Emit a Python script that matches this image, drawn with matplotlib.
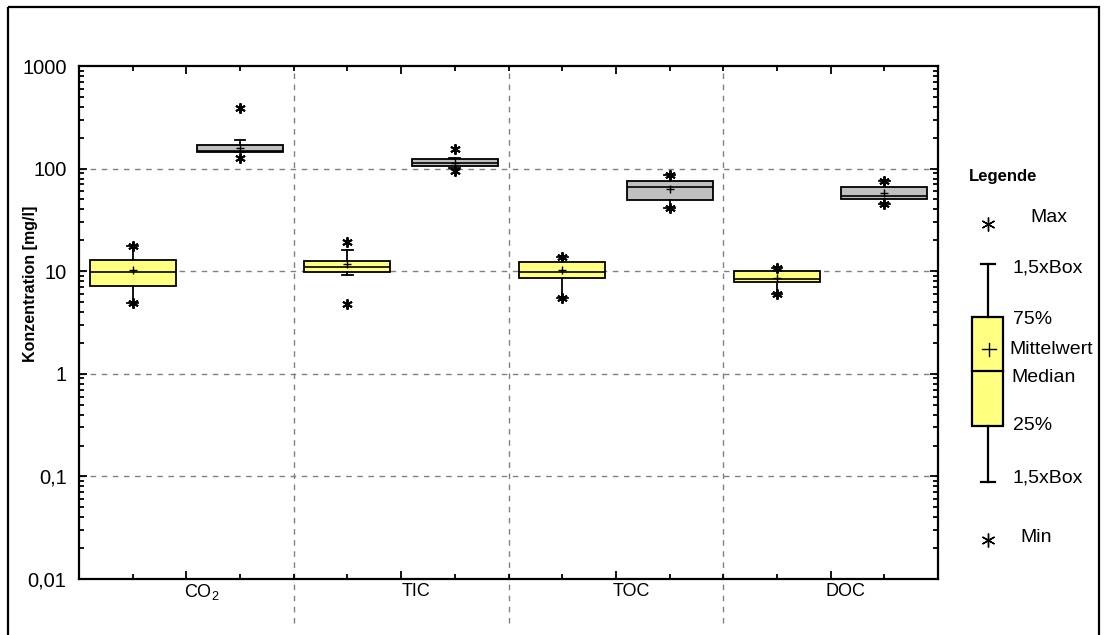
import numpy as np
import matplotlib
matplotlib.use('Agg')
from matplotlib import pyplot as plt
from matplotlib.patches import Rectangle
from matplotlib.ticker import LogLocator, FixedLocator, NullFormatter, FixedFormatter

plt.rcParams['font.family'] = ['Liberation Sans', 'DejaVu Sans']

categories = [r'CO$\mathregular{_2}$', 'TIC', 'TOC', 'DOC']

# yellow boxes (left in each group)
q1_y = [7.2, 9.75, 8.5, 7.8]
med_y = [9.9, 11.1, 9.8, 8.4]
q3_y = [12.9, 12.6, 12.2, 10.1]
mean_y = [10.3, 11.7, 10.3, 8.65]
whislo_y = [4.9, 9.1, 5.5, 6.0]
whishi_y = [17.7, 16.1, 13.9, 10.7]
min_y = [4.9, 4.8, 5.5, 6.0]
max_y = [17.7, 19.1, 13.9, 10.7]

# grey boxes (right in each group)
q1_g = [144, 106, 49, 50.6]
med_g = [150, 114, 66, 54]
q3_g = [170, 124, 76, 66.7]
mean_g = [160, 113, 63, 58]
whislo_g = [144, 101, 41.6, 45.2]
whishi_g = [191, 126, 86.6, 76.3]
min_g = [128, 95.5, 41.6, 45.2]
max_g = [387, 155, 86.6, 76.3]

ytick_vals = [0.01, 0.1, 1, 10, 100, 1000]
ytick_labels = ['0,01', '0,1', '1', '10', '100', '1000']

YELLOW = '#ffff80'
GREY = '#c0c0c0'
STAR = (6, 2, 0)


def make_stats(q1, med, q3, mean, wlo, whi, vmin, vmax):
    out = []
    for i in range(len(q1)):
        out.append(dict(q1=q1[i], med=med[i], q3=q3[i], mean=mean[i],
                        whislo=wlo[i], whishi=whi[i], fliers=[vmin[i], vmax[i]]))
    return out


fig = plt.figure(figsize=(11.04, 6.35), dpi=100)
ax = fig.add_axes([79 / 1104, 56 / 635, 859 / 1104, 513 / 635])

n = len(categories)
common = dict(widths=0.4, capwidths=0.05, showmeans=True, showfliers=True,
              patch_artist=True,
              medianprops=dict(color='black', lw=1.2),
              whiskerprops=dict(color='black', lw=1.3),
              capprops=dict(color='black', lw=1.3),
              meanprops=dict(marker='+', markeredgecolor='black', markersize=6, mew=1),
              flierprops=dict(marker=STAR, markeredgecolor='black', markerfacecolor='black',
                              markersize=7.5, mew=1.4))

ax.bxp(make_stats(q1_y, med_y, q3_y, mean_y, whislo_y, whishi_y, min_y, max_y),
       positions=np.arange(n) + 0.25, boxprops=dict(facecolor=YELLOW, edgecolor='black', lw=1.3),
       **common)
ax.bxp(make_stats(q1_g, med_g, q3_g, mean_g, whislo_g, whishi_g, min_g, max_g),
       positions=np.arange(n) + 0.75, boxprops=dict(facecolor=GREY, edgecolor='black', lw=1.3),
       **common)

ax.set_yscale('log')
ax.set_ylim(0.01, 1000)
ax.set_xlim(0, n)

ax.yaxis.set_major_locator(FixedLocator(ytick_vals))
ax.yaxis.set_major_formatter(FixedFormatter(ytick_labels))
ax.yaxis.set_minor_locator(LogLocator(base=10, subs=np.arange(2, 10)))
ax.yaxis.set_minor_formatter(NullFormatter())

ax.xaxis.set_major_locator(FixedLocator(np.arange(n) + 0.5))
ax.xaxis.set_minor_locator(FixedLocator(np.arange(0, n + 0.01, 0.25)))
ax.set_xticklabels([])

ax.tick_params(which='both', direction='in', top=True, right=True, width=1.3)
ax.tick_params(which='major', length=6, labelsize=14.5, pad=9)
ax.tick_params(which='minor', length=3.5)
for s in ax.spines.values():
    s.set_linewidth(1.6)

# dashed grid
for v in ytick_vals[1:-1]:
    ax.axhline(v, color='#808080', lw=1, ls=(0, (4, 4)), zorder=0)
for i in range(1, n):
    ax.plot([i, i], [-0.085, 1], transform=ax.get_xaxis_transform(), clip_on=False,
            color='#808080', lw=1, ls=(0, (4, 4)), zorder=0)

for i, c in enumerate(categories):
    ax.text(i + 0.57, -0.025, c, transform=ax.get_xaxis_transform(), ha='center', va='center',
            fontsize=13)

ax.set_ylabel('Konzentration [mg/l]', fontsize=11.5, fontweight='bold')
ax.yaxis.set_label_coords(-0.048, 0.575)

# legend drawn in figure pixels
lax = fig.add_axes([0, 0, 1, 1], zorder=-1)
lax.set_xlim(0, 1104)
lax.set_ylim(635, 0)
lax.axis('off')
lax.add_patch(Rectangle((8, 7), 1091, 640, fill=False, lw=1.6, edgecolor='black', clip_on=False))

lax.text(1003, 177, 'Legende', ha='center', va='center', fontsize=12, fontweight='bold')
lax.plot([988], [224], marker=STAR, color='black', markersize=10, mew=1)
lax.plot([988], [540], marker=STAR, color='black', markersize=10, mew=1)
lax.plot([988, 988], [264, 317], color='black', lw=1.6)
lax.plot([988, 988], [426, 482], color='black', lw=1.6)
lax.plot([981, 995], [264, 264], color='black', lw=1.6)
lax.plot([981, 995], [482, 482], color='black', lw=1.6)
lax.add_patch(Rectangle((972, 317), 31, 109, facecolor=YELLOW, edgecolor='black', lw=1.6))
lax.plot([972, 1003], [371, 371], color='black', lw=1.6)
lax.plot([989, 989], [343, 356], color='black', lw=1)
lax.plot([982, 996], [349, 349], color='black', lw=1)

leg_txt = [(1030, 217, 'Max'), (1012, 268, '1,5xBox'), (1013, 320, '75%'),
           (1009, 350, 'Mittelwert'), (1011, 377, 'Median'), (1013, 426, '25%'),
           (1012, 478, '1,5xBox'), (1020, 538, 'Min')]
for x, y, t in leg_txt:
    lax.text(x, y, t, ha='left', va='center', fontsize=14)

fig.savefig('out.png', dpi=100)
